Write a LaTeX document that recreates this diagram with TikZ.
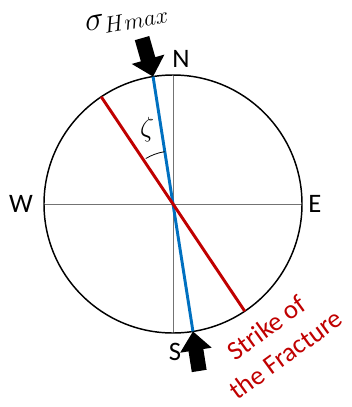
\documentclass[tikz,border=0pt]{standalone}
\usepackage{fontspec}
\setmainfont{Carlito}
\usetikzlibrary{calc}

\definecolor{strikered}{HTML}{C00000}
\definecolor{hmaxblue}{HTML}{0070C0}

\begin{document}
\begin{tikzpicture}[
  x=0.75pt, y=-0.75pt,
  font=\fontsize{20}{24.7}\selectfont,
  axis/.style={draw=black!55, line width=0.75pt},
  trace/.style={line width=2.2pt},
  compass/.style={inner sep=0pt},
  pusher/.style={fill=black},
]
  \useasboundingbox (0,0) rectangle (352,407);
  \coordinate (c) at (173,204);

  % net with N-S and E-W axes
  \coordinate (top) at ($(c)+(-90:129)$);
  \coordinate (bot) at ($(c)+(90:129)$);
  \coordinate (lft) at ($(c)+(180:129)$);
  \coordinate (rgt) at ($(c)+(0:129)$);
  \draw[axis] (top) -- (bot);
  \draw[axis] (lft) -- (rgt);
  \draw[line width=1.1pt] (c) circle[radius=129];

  \node[compass] (north) at (181,59)  {N};
  \node[compass] (south) at (175,352) {S};
  \node[compass] (west)  at (21,204)  {W};
  \node[compass] (east)  at (315,204) {E};

  % sigma Hmax direction
  \coordinate (b1) at ($(c)+(-98.9:129)$);
  \coordinate (b2) at ($(c)+(81.1:129)$);
  \draw[trace, hmaxblue] (b1) -- (b2);

  % strike of the fracture
  \coordinate (r1) at ($(c)+(-123.8:129)$);
  \coordinate (r2) at ($(c)+(56.2:129)$);
  \draw[trace, strikered] (r1) -- (r2);

  % angle between them
  \draw[line width=0.6pt] ($(c)+(-121:53)$) arc[start angle=-121, end angle=-99, radius=53];
  \node[font=\fontsize{21}{24}\selectfont] (zeta) at (147,130) {$\zeta$};

  % loading arrows
  \begin{scope}[shift={(b1)}, rotate=-74]
    \fill[pusher] (0,0) -- (-18,17) -- (-18,7.5) -- (-40,7.5) -- (-40,-7.5) -- (-18,-7.5) -- (-18,-17) -- cycle;
  \end{scope}
  \begin{scope}[shift={(b2)}, rotate=99]
    \fill[pusher] (0,0) -- (-19,16) -- (-19,7.5) -- (-40,7.5) -- (-40,-7.5) -- (-19,-7.5) -- (-19,-16) -- cycle;
  \end{scope}
  \node[rotate=10, font=\fontsize{24}{28}\selectfont] (smax) at (127,20) {$\sigma_{Hmax}$};

  \node[rotate=36, align=center, text=strikered] (strike) at (276,341) {Strike of\\the Fracture};
\end{tikzpicture}
\end{document}
